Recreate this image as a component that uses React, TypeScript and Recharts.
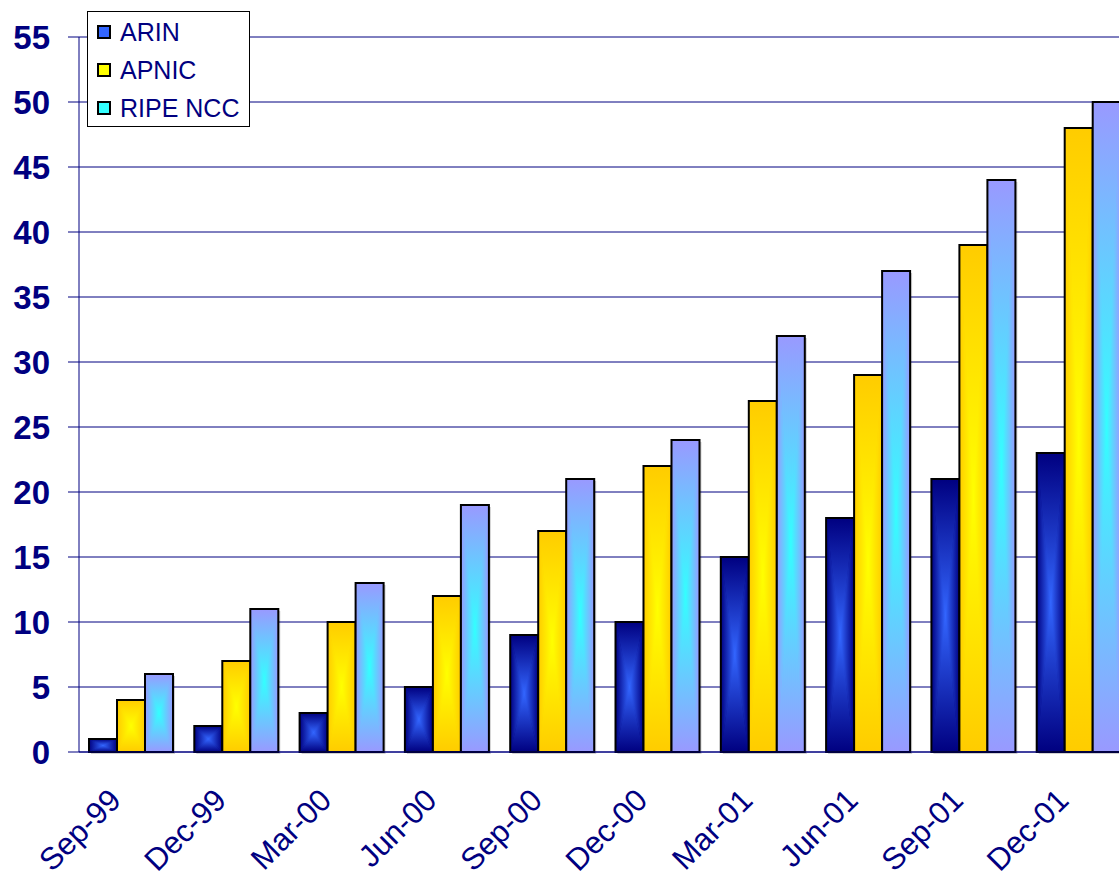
import React from 'react';
import { BarChart, Bar, XAxis, YAxis, CartesianGrid } from 'recharts';

const months = ['Sep-99', 'Dec-99', 'Mar-00', 'Jun-00', 'Sep-00', 'Dec-00', 'Mar-01', 'Jun-01', 'Sep-01', 'Dec-01'];
const arin = [1, 2, 3, 5, 9, 10, 15, 18, 21, 23];
const apnic = [4, 7, 10, 12, 17, 22, 27, 29, 39, 48];
const ripe = [6, 11, 13, 19, 21, 24, 32, 37, 44, 50];
const yTicks = [0, 5, 10, 15, 20, 25, 30, 35, 40, 45, 50, 55];
const boundaries = [0, 1, 2, 3, 4, 5, 6, 7, 8, 9, 10];

const series = [
  { key: 'arin', name: 'ARIN', edge: '#000080', center: '#3366ff' },
  { key: 'apnic', name: 'APNIC', edge: '#ffcc00', center: '#ffff00' },
  { key: 'ripe', name: 'RIPE NCC', edge: '#9999ff', center: '#33ffff' },
];

const data = months.map((month, i) => ({ month, arin: arin[i], apnic: apnic[i], ripe: ripe[i] }));

const NAVY = '#000080';
const FONT = 'Arial, "Liberation Sans", sans-serif';

// "from centre" rectangle gradient, built from four triangles
function GradientBar({ x, y, width, height, id }: any) {
  if (!height || height <= 0) return null;
  const cx = x + width / 2;
  const cy = y + height / 2;
  const r = x + width;
  const b = y + height;
  return (
    <g>
      <rect x={x + 2} y={y + 2} width={width} height={height} fill="#000" opacity={0.18} />
      <rect x={x} y={y} width={width} height={height} fill={`url(#${id}-mid)`} />
      <polygon points={`${x},${y} ${x},${b} ${cx},${cy}`} fill={`url(#${id}-l)`} />
      <polygon points={`${r},${y} ${r},${b} ${cx},${cy}`} fill={`url(#${id}-r)`} />
      <polygon points={`${x},${y} ${r},${y} ${cx},${cy}`} fill={`url(#${id}-t)`} />
      <polygon points={`${x},${b} ${r},${b} ${cx},${cy}`} fill={`url(#${id}-b)`} />
      <rect x={x} y={y} width={width} height={height} fill="none" stroke="#000" strokeWidth={2} />
    </g>
  );
}

function MonthTick({ x, y, payload }: any) {
  const tx = x - 9;
  const ty = y + 50;
  return (
    <text
      x={tx}
      y={ty}
      textAnchor="end"
      transform={`rotate(-45, ${tx}, ${ty})`}
      fill={NAVY}
      fontSize={31}
      fontFamily={FONT}
    >
      {payload.value}
    </text>
  );
}

function LegendBox() {
  return (
    <div
      style={{
        position: 'absolute',
        left: 87,
        top: 11,
        width: 161,
        height: 114,
        background: '#fff',
        border: '1px solid #000',
        fontFamily: FONT,
        fontSize: 25,
        color: NAVY,
      }}
    >
      {series.map((s, i) => (
        <div key={s.key} style={{ position: 'absolute', left: 9, top: 4 + i * 38, height: 32, display: 'flex', alignItems: 'center' }}>
          <span style={{ display: 'inline-block', width: 10, height: 10, background: s.center, border: '2px solid #000', marginRight: 9 }} />
          <span>{s.name}</span>
        </div>
      ))}
    </div>
  );
}

export default function App() {
  return (
    <div style={{ position: 'fixed', left: 0, top: 0, width: 1119, height: 872, overflow: 'hidden', background: '#fff' }}>
      <BarChart
        width={1140}
        height={872}
        data={data}
        margin={{ top: 37, right: 8, bottom: 0, left: 0 }}
        barCategoryGap="9.5%"
        barGap={0}
      >
        <defs>
          {series.map((s) => (
            <React.Fragment key={s.key}>
              <radialGradient id={`g-${s.key}-mid`} cx="0.5" cy="0.5" r="0.5">
                <stop offset="0" stopColor={s.center} />
                <stop offset="1" stopColor={s.edge} />
              </radialGradient>
              <linearGradient id={`g-${s.key}-l`} x1="0" y1="0" x2="1" y2="0">
                <stop offset="0" stopColor={s.edge} />
                <stop offset="1" stopColor={s.center} />
              </linearGradient>
              <linearGradient id={`g-${s.key}-r`} x1="1" y1="0" x2="0" y2="0">
                <stop offset="0" stopColor={s.edge} />
                <stop offset="1" stopColor={s.center} />
              </linearGradient>
              <linearGradient id={`g-${s.key}-t`} x1="0" y1="0" x2="0" y2="1">
                <stop offset="0" stopColor={s.edge} />
                <stop offset="1" stopColor={s.center} />
              </linearGradient>
              <linearGradient id={`g-${s.key}-b`} x1="0" y1="1" x2="0" y2="0">
                <stop offset="0" stopColor={s.edge} />
                <stop offset="1" stopColor={s.center} />
              </linearGradient>
            </React.Fragment>
          ))}
        </defs>
        <CartesianGrid vertical={false} stroke={NAVY} strokeWidth={1} yAxisId="y" xAxisId="cat" />
        <XAxis
          xAxisId="bounds"
          type="number"
          domain={[0, 10]}
          ticks={boundaries}
          allowDataOverflow
          height={0}
          tick={false}
          tickSize={11}
          axisLine={false}
          tickLine={{ stroke: NAVY, strokeWidth: 1 }}
        />
        <XAxis
          xAxisId="cat"
          dataKey="month"
          height={120}
          interval={0}
          tickSize={0}
          tickMargin={0}
          tickLine={false}
          axisLine={{ stroke: NAVY, strokeWidth: 1 }}
          tick={<MonthTick />}
        />
        <YAxis
          yAxisId="y"
          width={79}
          domain={[0, 55]}
          ticks={yTicks}
          interval={0}
          tickSize={11}
          tickMargin={18}
          axisLine={{ stroke: NAVY, strokeWidth: 1 }}
          tickLine={{ stroke: NAVY, strokeWidth: 1 }}
          tick={{ fill: NAVY, fontSize: 33, fontWeight: 'bold', fontFamily: FONT }}
        />
        {series.map((s) => (
          <Bar
            key={s.key}
            dataKey={s.key}
            name={s.name}
            xAxisId="cat"
            yAxisId="y"
            fill={s.edge}
            shape={(props: any) => <GradientBar {...props} id={`g-${s.key}`} />}
            isAnimationActive={false}
          />
        ))}
      </BarChart>
      <LegendBox />
    </div>
  );
}
